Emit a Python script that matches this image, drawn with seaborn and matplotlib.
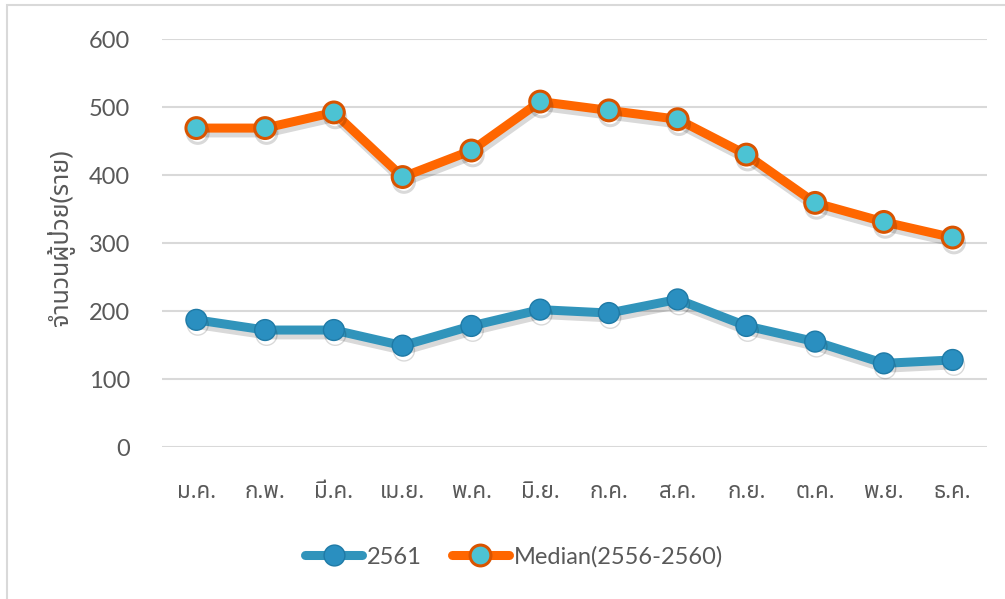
import matplotlib
matplotlib.use("Agg")
import matplotlib.pyplot as plt
import matplotlib.patheffects as pe
from matplotlib.lines import Line2D
from matplotlib.patches import Rectangle
import pandas as pd
import seaborn as sns

months = ["ม.ค.", "ก.พ.", "มี.ค.", "เม.ย.", "พ.ค.", "มิ.ย.",
          "ก.ค.", "ส.ค.", "ก.ย.", "ต.ค.", "พ.ย.", "ธ.ค."]
cases_2561 = [187, 172, 172, 149, 178, 202, 197, 217, 178, 155, 123, 128]
median_2556_2560 = [469, 469, 492, 397, 436, 508, 495, 482, 430, 359, 331, 308]
y_ticks = [0, 100, 200, 300, 400, 500, 600]
series_names = ["2561", "Median(2556-2560)"]

TEXT = "#595959"
BLUE = "#3194bb"
ORANGE = "#ff6600"
CYAN = "#4cc3d3"

sns.set_theme(style="white")
plt.rcParams["font.family"] = ["Lato", "Noto Sans Thai", "DejaVu Sans"]

df = pd.DataFrame({"month": months, "s2561": cases_2561, "median": median_2556_2560})

fig = plt.figure(figsize=(10.05, 5.99), dpi=100)
ax = fig.add_axes([162 / 1005, 1 - 447 / 599, 825 / 1005, 408 / 599])

# chart area border
fig.patches.append(Rectangle((7 / 1005, -0.05), 1.1, 1 - 5 / 599 + 0.05,
                             transform=fig.transFigure, fill=False,
                             edgecolor="#d9d9d9", linewidth=1.5))

shadow = [pe.SimpleLineShadow(offset=(1, -3.5), shadow_color="#000000", alpha=0.15), pe.Normal()]

sns.lineplot(data=df, x="month", y="s2561", ax=ax, sort=False, color=BLUE,
             linewidth=6.5, marker="o", markersize=15, markerfacecolor="#2a8fc0",
             markeredgecolor="#1f7aa6", markeredgewidth=1, path_effects=shadow,
             zorder=3)
sns.lineplot(data=df, x="month", y="median", ax=ax, sort=False, color=ORANGE,
             linewidth=6.5, marker="o", markersize=15, markerfacecolor=CYAN,
             markeredgecolor="#d95400", markeredgewidth=2.2, path_effects=shadow,
             zorder=3)

ax.set_xlim(-0.5, len(months) - 0.5)
ax.set_ylim(0, 600)
ax.set_yticks(y_ticks)
ax.set_xlabel("")
ax.set_ylabel("จำนวนผู้ป่วย(ราย)", family=["Noto Sans Thai", "DejaVu Sans"],
              fontsize=18, color=TEXT)
ax.yaxis.set_label_coords((75 - 162) / 825, (447 - 238) / 408)
ax.grid(axis="y", color="#d9d9d9", linewidth=1.5)
ax.set_axisbelow(True)
for s in ax.spines.values():
    s.set_visible(False)
ax.tick_params(axis="y", length=0, pad=23, labelsize=17, labelcolor=TEXT)
ax.tick_params(axis="x", length=0, pad=25, labelsize=16, labelcolor=TEXT)
for lbl in ax.get_xticklabels():
    lbl.set_family(["Noto Sans Thai", "DejaVu Sans"])

handles = [
    Line2D([], [], color=BLUE, linewidth=6.5, marker="o", markersize=15,
           markerfacecolor="#2a8fc0", markeredgecolor="#1f7aa6"),
    Line2D([], [], color=ORANGE, linewidth=6.5, marker="o", markersize=15,
           markerfacecolor=CYAN, markeredgecolor="#d95400", markeredgewidth=2.2),
]
leg = fig.legend(handles, series_names, loc="center", bbox_to_anchor=(514 / 1005, 1 - 557 / 599),
                 ncol=2, frameon=False, fontsize=17, handlelength=2.4, handletextpad=0.2,
                 columnspacing=1.3, numpoints=1)
for t in leg.get_texts():
    t.set_color(TEXT)

fig.savefig("out.png", dpi=100)
